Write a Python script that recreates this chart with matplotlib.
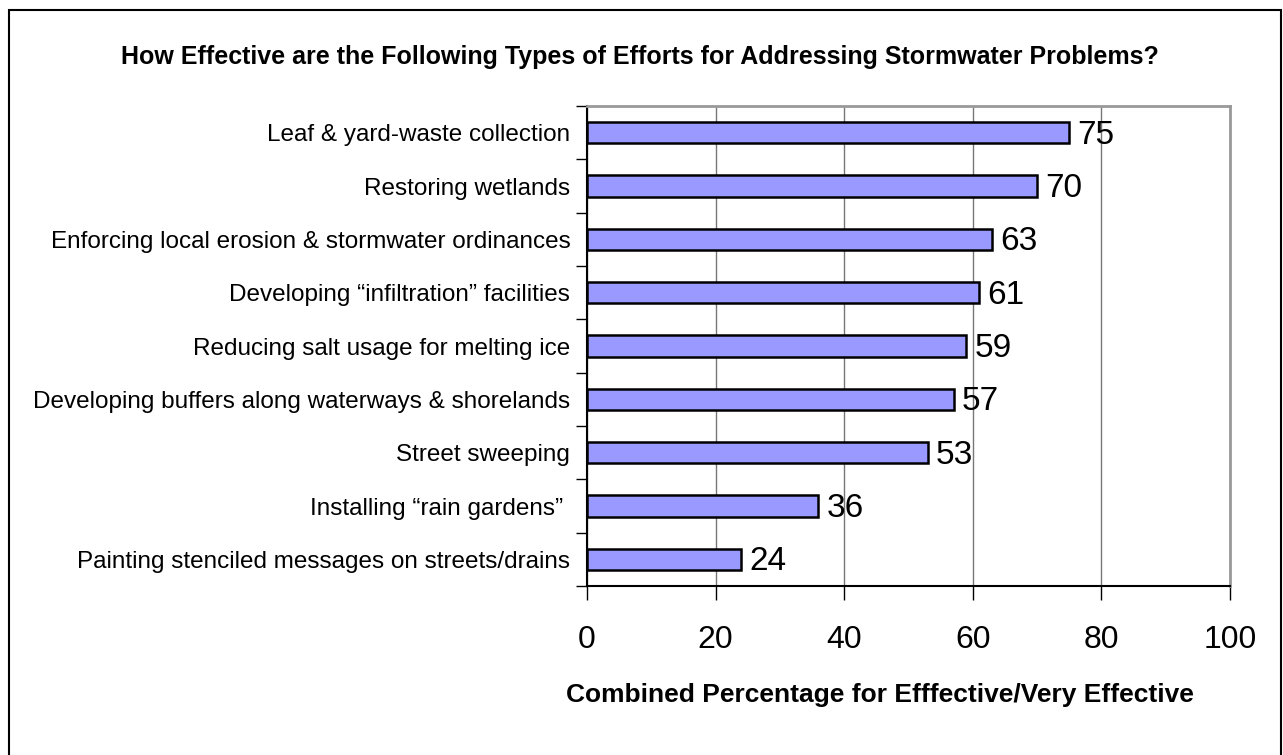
import matplotlib
matplotlib.use('Agg')
import matplotlib.pyplot as plt
import matplotlib.patches as mpatches

plt.rcParams['font.family'] = ['Liberation Sans', 'DejaVu Sans']

categorias = [
    'Leaf & yard-waste collection',
    'Restoring wetlands',
    'Enforcing local erosion & stormwater ordinances',
    'Developing \u201cinfiltration\u201d facilities',
    'Reducing salt usage for melting ice',
    'Developing buffers along waterways & shorelands',
    'Street sweeping',
    'Installing \u201crain gardens\u201d ',
    'Painting stenciled messages on streets/drains',
]
valores = [75, 70, 63, 61, 59, 57, 53, 36, 24]
xticks = [0, 20, 40, 60, 80, 100]

fig = plt.figure(figsize=(12.83, 7.55), dpi=100)
W, H = 1283, 755
ax = fig.add_axes([587 / W, 1 - 586 / H, (1230 - 587) / W, (586 - 106) / H])

# borde de la figura
fig.patches.append(mpatches.Rectangle((8.5 / W, -0.05), (1281 - 8.5) / W, 1 - 10 / H + 0.05,
                                      transform=fig.transFigure, fill=False,
                                      edgecolor='black', linewidth=1.5))

n = len(categorias)
pos = [n - 1 - i for i in range(n)]
ax.barh(pos, valores, height=0.4, color='#9999FF', edgecolor='black', linewidth=1.8, zorder=3)

for p, v in zip(pos, valores):
    ax.text(v + 1.3, p - 0.05, str(v), fontsize=24, va='center', ha='left', zorder=4)

ax.set_xlim(0, 100)
ax.set_ylim(-0.5, n - 0.5)
ax.set_xticks(xticks)
ax.set_xticklabels([str(t) for t in xticks], fontsize=23)
ax.tick_params(axis='x', length=10, pad=18, width=1)
ax.set_yticks(pos)
ax.set_yticklabels(categorias, fontsize=17.5)
ax.tick_params(axis='y', length=0, pad=12)
# marcas entre categorias
ax.set_yticks([k - 0.5 for k in range(n + 1)], minor=True)
ax.tick_params(axis='y', which='minor', length=8, width=1)

ax.grid(axis='x', color='#777777', linewidth=1, zorder=0)
ax.set_axisbelow(True)
for s in ['top', 'right']:
    ax.spines[s].set_color('#999999')
    ax.spines[s].set_linewidth(2)
for s in ['left', 'bottom']:
    ax.spines[s].set_color('black')
    ax.spines[s].set_linewidth(1.5)

fig.text(640 / W, 1 - 57 / H, 'How Effective are the Following Types of Efforts for Addressing Stormwater Problems?',
         fontsize=18, fontweight='bold', ha='center', va='center')
fig.text(880 / W, 1 - 695 / H, 'Combined Percentage for Efffective/Very Effective',
         fontsize=19, fontweight='bold', ha='center', va='center')

plt.savefig('out.png', dpi=100)
plt.close()
